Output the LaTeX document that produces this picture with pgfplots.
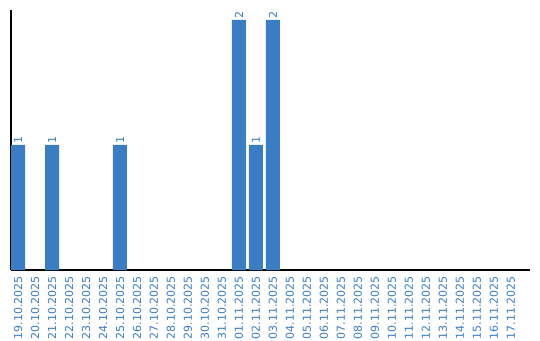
\documentclass[border=0pt]{standalone}
\usepackage{fontspec}
\setmainfont{DejaVu Sans}
\usepackage{pgfplots}
\pgfplotsset{compat=1.18}
\definecolor{barblue}{RGB}{59,125,196}
\begin{document}
\begin{tikzpicture}[x=1pt,y=1pt]
\useasboundingbox (0,0) rectangle (540,340);
\begin{axis}[
  at={(11pt,70pt)}, anchor=south west,
  scale only axis,
  width=519pt, height=260pt,
  xmin=-0.412, xmax=30.12,
  ymin=0, ymax=2.08,
  axis x line*=bottom, axis y line*=left,
  axis line style={black, line width=1.2pt, -},
  ytick=\empty,
  xtick={0,...,29},
  major tick length=0pt,
  xticklabels={19.10.2025,20.10.2025,21.10.2025,22.10.2025,23.10.2025,24.10.2025,25.10.2025,26.10.2025,27.10.2025,28.10.2025,29.10.2025,30.10.2025,31.10.2025,01.11.2025,02.11.2025,03.11.2025,04.11.2025,05.11.2025,06.11.2025,07.11.2025,08.11.2025,09.11.2025,10.11.2025,11.11.2025,12.11.2025,13.11.2025,14.11.2025,15.11.2025,16.11.2025,17.11.2025},
  xticklabel style={yshift=-6pt, rotate=90, anchor=east, font=\fontsize{11}{13}\selectfont, text=barblue, inner sep=0pt},
  nodes near coords,
  nodes near coords style={rotate=90, anchor=west, font=\fontsize{11}{13}\selectfont, text=barblue, inner sep=1pt, /pgf/number format/assume math mode=true},
  clip=false,
]
\addplot[ybar, bar width=14pt, fill=barblue, draw=none] coordinates {(0,1) (2,1) (6,1) (13,2) (14,1) (15,2)};
\end{axis}
\end{tikzpicture}
\end{document}
